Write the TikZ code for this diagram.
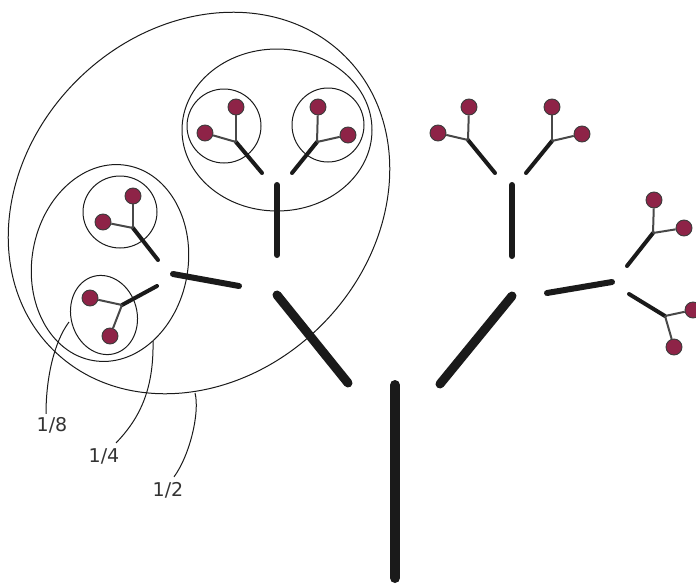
\documentclass[tikz,border=0pt]{standalone}
\usepackage{fontspec}
\setmainfont{DejaVu Sans}
\definecolor{leafred}{HTML}{8E2347}
\definecolor{ink}{HTML}{1A1A1A}
\definecolor{labelgray}{HTML}{333333}
\tikzset{
  leaf/.style={circle,draw=ink!85,line width=0.9pt,fill=leafred,minimum size=16pt,inner sep=0pt},
  trunkline/.style={draw=ink,line width=10pt,line cap=round},
  bigbranch/.style={draw=ink,line width=9pt,line cap=round},
  midbranch/.style={draw=ink,line width=6pt,line cap=round},
  smallbranch/.style={draw=ink,line width=4pt,line cap=round},
  stalk/.style={draw=ink!80,line width=2pt},
  ring/.style={draw=ink,line width=1pt},
  leader/.style={draw=ink,line width=1pt},
  frac/.style={text=labelgray,font=\fontsize{19}{23}\selectfont,inner sep=0pt}
}
\begin{document}
\begin{tikzpicture}[x=1pt,y=-1pt]
\useasboundingbox (0,0) rectangle (696,584);
% trunk and first level
\coordinate (t0) at (395,578); \coordinate (t1) at (395,385);
\draw[trunkline] (t0) -- (t1);
\coordinate (bl0) at (348,383); \coordinate (bl1) at (277,295);
\coordinate (br0) at (440,384); \coordinate (br1) at (512,296);
\draw[bigbranch] (bl0) -- (bl1);
\draw[bigbranch] (br0) -- (br1);
% second level, left half
\coordinate (lv0) at (277,255); \coordinate (lv1) at (277,185);
\coordinate (lh0) at (239,286); \coordinate (lh1) at (173,274);
\draw[midbranch] (lv0) -- (lv1);
\draw[midbranch] (lh0) -- (lh1);
% second level, right half
\coordinate (rv0) at (512,256); \coordinate (rv1) at (512,185);
\coordinate (rh0) at (547,293); \coordinate (rh1) at (612,282);
\draw[midbranch] (rv0) -- (rv1);
\draw[midbranch] (rh0) -- (rh1);
% third level branches
\coordinate (a0) at (262,173); \coordinate (aj) at (236,142);
\coordinate (b0) at (292,173); \coordinate (bj) at (317,142);
\coordinate (c0) at (158,260); \coordinate (cj) at (133,228);
\coordinate (d0) at (157,286); \coordinate (dj) at (122,305);
\coordinate (e0) at (495,173); \coordinate (ej) at (468,140);
\coordinate (f0) at (526,173); \coordinate (fj) at (552,141);
\coordinate (g0) at (627,266); \coordinate (gj) at (653,233);
\coordinate (h0) at (629,294); \coordinate (hj) at (665,316);
\foreach \s in {a,b,c,d,e,f,g,h} {\draw[smallbranch] (\s0) -- (\s j);}
% leaves
\node[leaf] (a1) at (236,107) {}; \node[leaf] (a2) at (205,133) {};
\node[leaf] (b1) at (318,107) {}; \node[leaf] (b2) at (348,135) {};
\node[leaf] (c1) at (133,196) {}; \node[leaf] (c2) at (103,222) {};
\node[leaf] (d1) at (90,298) {};  \node[leaf] (d2) at (110,336) {};
\node[leaf] (e1) at (469,107) {}; \node[leaf] (e2) at (438,133) {};
\node[leaf] (f1) at (552,107) {}; \node[leaf] (f2) at (582,134) {};
\node[leaf] (g1) at (654,200) {}; \node[leaf] (g2) at (684,228) {};
\node[leaf] (h1) at (693,310) {}; \node[leaf] (h2) at (674,347) {};
\foreach \s in {a,b,c,d,e,f,g,h} {
  \draw[stalk] (\s j) -- (\s1);
  \draw[stalk] (\s j) -- (\s2);
}
% grouping rings
\draw[ring] (224,126) ellipse [x radius=37pt, y radius=37pt];
\draw[ring] (328,125) ellipse [x radius=36pt, y radius=37pt];
\draw[ring] (277,130) ellipse [x radius=95pt, y radius=81pt];
\draw[ring] (120,212) ellipse [x radius=37pt, y radius=36pt];
\draw[ring,rotate around={15:(104,315)}] (104,315) ellipse [x radius=33pt, y radius=40pt];
\draw[ring,rotate around={-10:(110,263)}] (110,263) ellipse [x radius=78pt, y radius=99pt];
\draw[ring,rotate around={45:(199,203)}] (199,203) ellipse [x radius=207pt, y radius=173pt];
% labels and leaders
\node[frac] (l8) at (52,425) {1/8};
\node[frac] (l4) at (104,456) {1/4};
\node[frac] (l2) at (168,490) {1/2};
\coordinate (p8) at (69,322);
\coordinate (p4) at (153,341);
\coordinate (p2) at (195,393);
\draw[leader] (l8.north) ++(-6,-3) coordinate (q8) .. controls (46,378) and (54,342) .. (p8);
\draw[leader] (l4.north) ++(12,-5) coordinate (q4) .. controls (138,420) and (154,392) .. (p4);
\draw[leader] (l2.north) ++(6,-5) coordinate (q2) .. controls (190,455) and (200,412) .. (p2);
\end{tikzpicture}
\end{document}
